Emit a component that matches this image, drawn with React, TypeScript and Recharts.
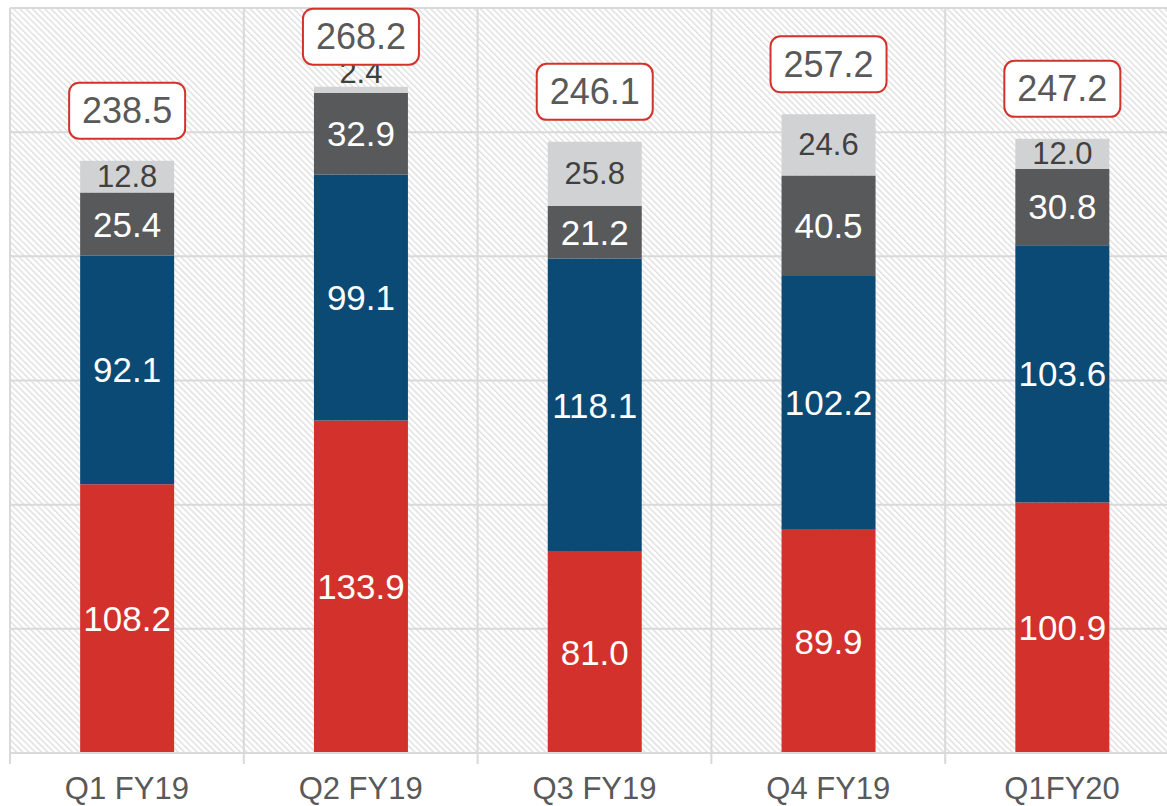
import { BarChart, Bar, XAxis, YAxis, CartesianGrid, LabelList } from "recharts";

const categories = ["Q1 FY19", "Q2 FY19", "Q3 FY19", "Q4 FY19", "Q1FY20"];
const redValues = [108.2, 133.9, 81.0, 89.9, 100.9];
const blueValues = [92.1, 99.1, 118.1, 102.2, 103.6];
const darkValues = [25.4, 32.9, 21.2, 40.5, 30.8];
const lightValues = [12.8, 2.4, 25.8, 24.6, 12.0];
const totals = [238.5, 268.2, 246.1, 257.2, 247.2];
const yTicks = [0, 50, 100, 150, 200, 250, 300];

const data = categories.map((name, i) => ({
  name,
  red: redValues[i],
  blue: blueValues[i],
  dark: darkValues[i],
  light: lightValues[i],
}));

const CHART_W = 1181;
const CHART_H = 806;
const MARGIN = { top: 8, right: 2, bottom: 0, left: 10 };
const PLOT_W = CHART_W - MARGIN.left - MARGIN.right;
const GRID = "#d9d9d9";
const TEXT = "#595959";
const FONT = "'Liberation Sans', Arial, sans-serif";

const innerLabel = (props: any) => {
  const { x, y, width, height, value } = props;
  return (
    <text
      x={Number(x) + Number(width) / 2}
      y={Number(y) + Number(height) / 2}
      textAnchor="middle"
      dominantBaseline="central"
      fill="#ffffff"
      fontSize={35}
      fontFamily={FONT}
    >
      {Number(value).toFixed(1)}
    </text>
  );
};

const lightLabel = (props: any) => {
  const { x, y, width, height, value } = props;
  const h = Number(height);
  // tiny segments get their label above the bar
  const cy = h < 20 ? Number(y) - 14 : Number(y) + h / 2;
  return (
    <text
      x={Number(x) + Number(width) / 2}
      y={cy}
      textAnchor="middle"
      dominantBaseline="central"
      fill="#404040"
      fontSize={31}
      fontFamily={FONT}
    >
      {Number(value).toFixed(1)}
    </text>
  );
};

const totalLabel = (props: any) => {
  const { x, y, width, index } = props;
  const cx = Number(x) + Number(width) / 2;
  const cy = Number(y) - 50;
  const w = 116;
  const h = 56;
  return (
    <g>
      <rect
        x={cx - w / 2}
        y={cy - h / 2}
        width={w}
        height={h}
        rx={10}
        ry={10}
        fill="#ffffff"
        stroke="#d2322b"
        strokeWidth={2}
      />
      <text
        x={cx}
        y={cy}
        textAnchor="middle"
        dominantBaseline="central"
        fill={TEXT}
        fontSize={36}
        fontFamily={FONT}
      >
        {totals[index]?.toFixed(1)}
      </text>
    </g>
  );
};

const CategoryTick = (props: any) => {
  const { x, y, payload } = props;
  const band = PLOT_W / categories.length;
  const bx = x - band / 2;
  return (
    <g>
      <line x1={bx} x2={bx} y1={y} y2={y + 11} stroke={GRID} strokeWidth={2} />
      <text
        x={x}
        y={y + 46}
        textAnchor="middle"
        fill={TEXT}
        fontSize={31}
        fontFamily={FONT}
      >
        {payload.value}
      </text>
    </g>
  );
};

export default function App() {
  return (
    <div
      style={{
        position: "fixed",
        left: 0,
        top: 0,
        width: 1167,
        height: 806,
        overflow: "hidden",
        background: "#ffffff",
      }}
    >
      <BarChart
        width={CHART_W}
        height={CHART_H}
        data={data}
        margin={MARGIN}
        barCategoryGap="30%"
      >
        <defs>
          <pattern
            id="hatch"
            width="4.4"
            height="4.4"
            patternUnits="userSpaceOnUse"
            patternTransform="rotate(45)"
          >
            <rect width="4.4" height="4.4" fill="#ffffff" />
            <line x1="0" y1="1" x2="4.4" y2="1" stroke="#dcdcdc" strokeWidth={1.3} />
          </pattern>
        </defs>
        <CartesianGrid
          fill="url(#hatch)"
          fillOpacity={1}
          stroke={GRID}
          strokeWidth={2}
          verticalCoordinatesGenerator={({ offset }: any) =>
            categories
              .map((_, i) => offset.left + (i * offset.width) / categories.length)
              .concat(offset.left + offset.width)
          }
        />
        <XAxis
          dataKey="name"
          axisLine={{ stroke: GRID, strokeWidth: 2 }}
          tickLine={false}
          tickSize={0}
          tickMargin={0}
          height={53}
          interval={0}
          tick={<CategoryTick />}
        />
        <YAxis hide domain={[0, 300]} ticks={yTicks} width={0} />
        <Bar dataKey="red" stackId="a" fill="#d2322b" isAnimationActive={false}>
          <LabelList dataKey="red" content={innerLabel} />
        </Bar>
        <Bar dataKey="blue" stackId="a" fill="#0c4a76" isAnimationActive={false}>
          <LabelList dataKey="blue" content={innerLabel} />
        </Bar>
        <Bar dataKey="dark" stackId="a" fill="#58595b" isAnimationActive={false}>
          <LabelList dataKey="dark" content={innerLabel} />
        </Bar>
        <Bar dataKey="light" stackId="a" fill="#d1d2d4" isAnimationActive={false}>
          <LabelList dataKey="light" content={lightLabel} />
          <LabelList dataKey="light" content={totalLabel} />
        </Bar>
      </BarChart>
    </div>
  );
}
